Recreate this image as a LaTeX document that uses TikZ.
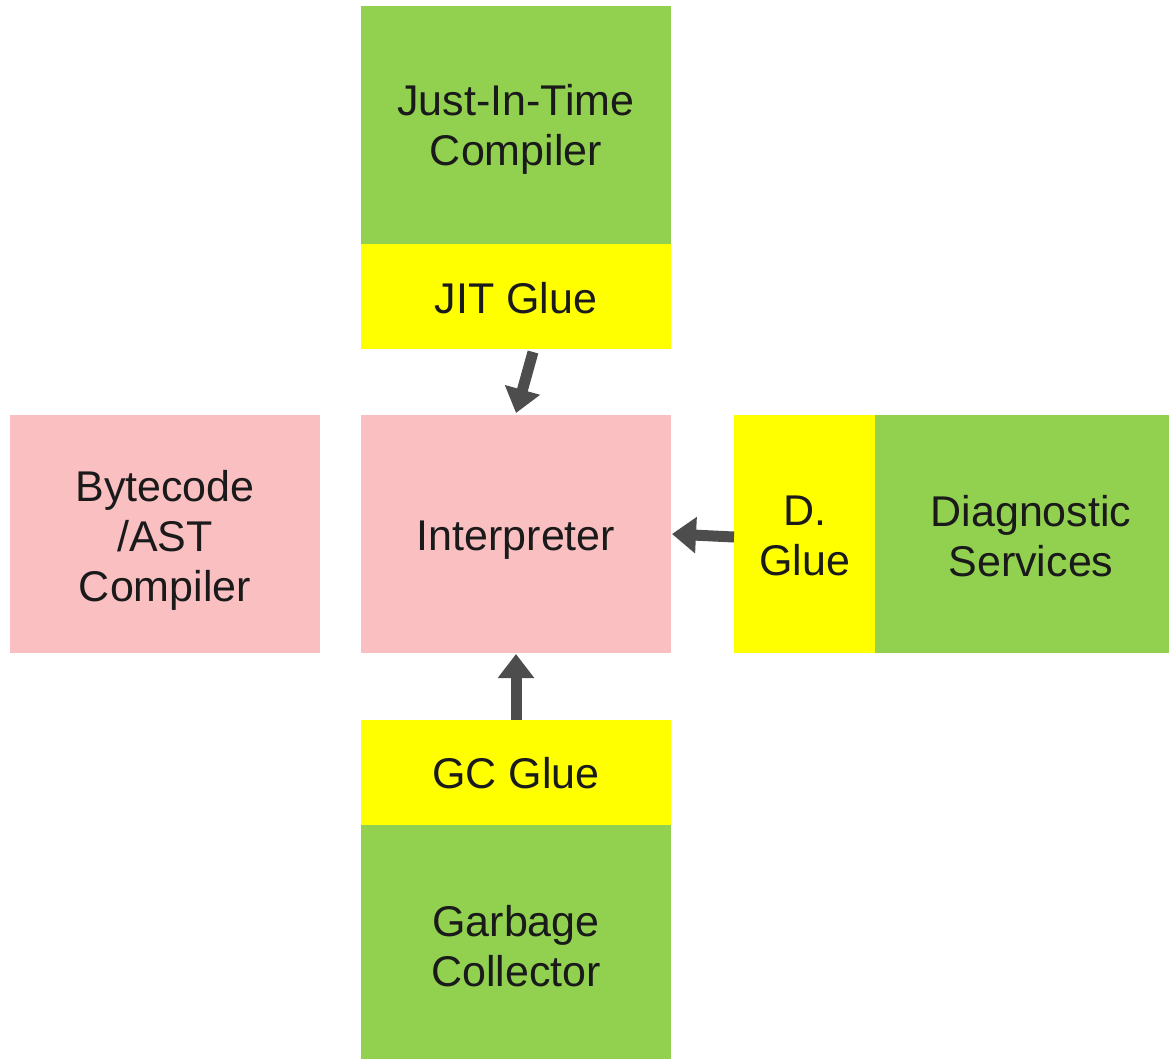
\documentclass[tikz,border=0pt]{standalone}
\usepackage{fontspec}
\setmainfont{Liberation Sans}
\usetikzlibrary{arrows.meta}
\definecolor{modgreen}{HTML}{92D050}
\definecolor{glueyellow}{HTML}{FFFF00}
\definecolor{corepink}{HTML}{F9BFC1}
\definecolor{arrowgray}{HTML}{4D4D4D}
\definecolor{labeltext}{HTML}{1A1A1A}
\tikzset{
  block/.style={rectangle, inner sep=0pt, outer sep=0pt},
  caption/.style={inner sep=0pt, align=center, text=labeltext,
    font=\fontsize{43}{50}\selectfont},
  module/.style={block, fill=modgreen},
  glue/.style={block, fill=glueyellow},
  core/.style={block, fill=corepink},
  link/.style={draw=arrowgray, line width=11pt, line cap=butt,
    -{Triangle[length=24pt, width=35pt]}}
}
\begin{document}
\begin{tikzpicture}[x=1pt, y=-1pt]
  \useasboundingbox (0,0) rectangle (1169,1058);

  % JIT stack
  \node[module, minimum width=310pt, minimum height=238pt,
    label={[caption, yshift=-4pt]center:Just-In-Time\\Compiler}] (jit) at (516,125) {};
  \node[glue, minimum width=310pt, minimum height=105pt,
    label={[caption, yshift=-2pt]center:JIT Glue}] (jitglue) at (516,296.5) {};

  % core row
  \node[core, minimum width=310pt, minimum height=238pt,
    label={[caption, yshift=-6pt]center:Bytecode\\/AST\\Compiler}] (bytecode) at (165,534) {};
  \node[core, minimum width=310pt, minimum height=238pt,
    label={[caption, yshift=-6pt]center:Interpreter}] (interp) at (516,534) {};
  \node[glue, minimum width=141pt, minimum height=238pt,
    label={[caption, yshift=-2pt]center:D.\\Glue}] (dglue) at (804.5,534) {};
  \node[module, minimum width=312pt, minimum height=238pt,
    label={[caption, yshift=-2pt]center:Diagnostic\\Services}] (diag) at (1031,534) {};

  % GC stack
  \node[glue, minimum width=310pt, minimum height=105pt,
    label={[caption, yshift=-1pt]center:GC Glue}] (gcglue) at (516,772.5) {};
  \node[module, minimum width=310pt, minimum height=242pt,
    label={[caption]center:Garbage\\Collector}] (gc) at (516,946) {};

  % connectors into the interpreter
  \draw[link] ([xshift=17pt, yshift=-3pt]jitglue.south) -- ([yshift=2pt]interp.north);
  \draw[link] ([yshift=-3pt]dglue.west) -- ([xshift=1pt]interp.east);
  \draw[link] (gcglue.north) -- ([yshift=-1pt]interp.south);
\end{tikzpicture}
\end{document}
